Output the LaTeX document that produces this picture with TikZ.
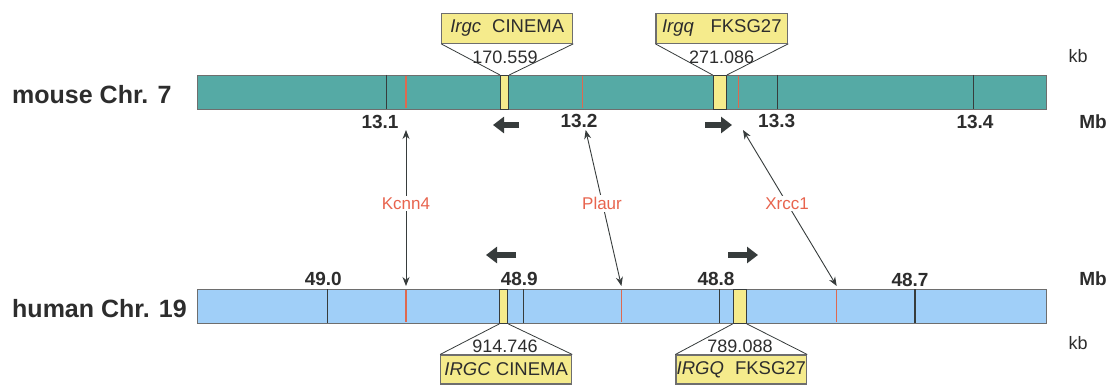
\documentclass[tikz,border=0pt]{standalone}
\usepackage{fontspec}
\setmainfont{Liberation Sans}
\usetikzlibrary{arrows.meta}
\definecolor{mousecol}{RGB}{85,170,165}
\definecolor{humancol}{RGB}{160,207,248}
\definecolor{genecol}{RGB}{245,235,140}
\definecolor{redline}{RGB}{222,105,80}
\definecolor{redtext}{RGB}{232,100,78}
\definecolor{darkline}{RGB}{55,60,60}
\definecolor{outline}{RGB}{110,110,110}
\definecolor{txt}{RGB}{45,45,45}
\begin{document}
\begin{tikzpicture}[x=1pt,y=-1pt,
  bar/.style={draw=outline,line width=1.2pt,minimum height=34pt,minimum width=849pt,inner sep=0pt,anchor=north west},
  band/.style={draw=darkline,line width=0.9pt,fill=genecol,inner sep=0pt,minimum height=34pt},
  genebox/.style={draw=outline,line width=1.1pt,fill=genecol,inner sep=0pt,minimum height=30pt,text=txt,font=\fontsize{18.5}{20}\selectfont},
  kbnum/.style={text=txt,font=\fontsize{18}{20}\selectfont,inner sep=0pt},
  mbnum/.style={text=txt,font=\fontsize{19}{22}\bfseries\selectfont,inner sep=0pt},
  chrlabel/.style={text=txt,font=\fontsize{25}{28}\bfseries\selectfont,inner sep=0pt,anchor=west},
  blackmark/.style={draw=darkline,line width=1.1pt},
  redmark/.style={draw=redline,line width=1.1pt},
  trap/.style={draw=darkline,line width=0.8pt},
  homolog/.style={draw=darkline,line width=0.9pt,{Stealth[length=9pt,width=7pt]}-{Stealth[length=9pt,width=7pt]}},
  glabel/.style={fill=white,text=redtext,font=\fontsize{17}{19}\selectfont,inner sep=2pt},
  dirarrow/.style={draw=darkline,line width=6.5pt,-{Triangle[length=11pt,width=16pt]}}
]
\useasboundingbox[fill=white] (0,0) rectangle (1112,385);

% chromosome labels
\node[chrlabel] (mlab) at (12,95) {mouse Chr. 7};
\node[chrlabel] (hlab) at (12,308.5) {human Chr. 19};

% bars
\node[bar,fill=mousecol] (mouse) at (197,75) {};
\node[bar,fill=humancol] (human) at (197,289) {};

% mouse marks
\foreach \x in {386.7,777.7,973.3} \draw[blackmark] (\x,75) -- (\x,109);
\foreach \x in {406,582.3,738.7} \draw[redmark] (\x,75.6) -- (\x,108.4);
\node[band,minimum width=8.3pt,anchor=north west] (mb1) at (500,75) {};
\node[band,minimum width=13.3pt,anchor=north west] (mb2) at (712.7,75) {};

% human marks
\foreach \x in {327.3,523.3,719.3,915} \draw[blackmark] (\x,289) -- (\x,323);
\foreach \x in {406,621.4,836.7} \draw[redmark] (\x,289.6) -- (\x,322.4);
\node[band,minimum width=8pt,anchor=north west] (hb1) at (499.3,289) {};
\node[band,minimum width=13.3pt,anchor=north west] (hb2) at (732.7,289) {};

% gene boxes mouse
\node[genebox,minimum width=131pt] (mg1) at (507.2,28.3) {\textit{Irgc}\hspace{0.6em}CINEMA};
\node[genebox,minimum width=131.7pt] (mg2) at (721.8,28.3) {\textit{Irgq}\hspace{0.9em}FKSG27};
\draw[trap] (mg1.south west) -- (mb1.north west) (mg1.south east) -- (mb1.north east);
\draw[trap] (mg2.south west) -- (mb2.north west) (mg2.south east) -- (mb2.north east);
\node[kbnum] (mk1) at (505,57) {170.559};
\node[kbnum] (mk2) at (721.7,57) {271.086};

% gene boxes human
\node[genebox,minimum width=131pt,minimum height=29pt] (hg1) at (506.2,369.5) {\textit{IRGC} CINEMA};
\node[genebox,minimum width=130.7pt,minimum height=29pt] (hg2) at (741.3,369.5) {\textit{IRGQ}\hspace{0.6em}FKSG27};
\draw[trap] (hb1.south west) -- (hg1.north west) (hb1.south east) -- (hg1.north east);
\draw[trap] (hb2.south west) -- (hg2.north west) (hb2.south east) -- (hg2.north east);
\node[kbnum] (hk1) at (505,346.5) {914.746};
\node[kbnum] (hk2) at (740,346.5) {789.088};

% unit labels
\node[kbnum] (kbm) at (1078,56) {kb};
\node[kbnum] (kbh) at (1078,342.7) {kb};
\node[mbnum] (mbm) at (1093,121.7) {Mb};
\node[mbnum] (mbh) at (1093,278.3) {Mb};

% Mb scale numbers
\node[mbnum] (m131) at (380,121.7) {13.1};
\node[mbnum] (m132) at (579,121.2) {13.2};
\node[mbnum] (m133) at (776.7,121.2) {13.3};
\node[mbnum] (m134) at (975,121.7) {13.4};
\node[mbnum] (h490) at (323.3,279.3) {49.0};
\node[mbnum] (h489) at (519.3,278.8) {48.9};
\node[mbnum] (h488) at (716,278.8) {48.8};
\node[mbnum] (h487) at (910,280) {48.7};

% direction arrows
\coordinate (da1s) at (519,125); \coordinate (da1e) at (493,125);
\coordinate (da2s) at (705,125); \coordinate (da2e) at (732,125);
\coordinate (da3s) at (516,255); \coordinate (da3e) at (486,255);
\coordinate (da4s) at (728,255); \coordinate (da4e) at (758,255);
\draw[dirarrow] (da1s) -- (da1e);
\draw[dirarrow] (da2s) -- (da2e);
\draw[dirarrow] (da3s) -- (da3e);
\draw[dirarrow] (da4s) -- (da4e);

% homology connectors
\coordinate (k1) at (406,130); \coordinate (k2) at (406,286);
\coordinate (p1) at (585.7,130); \coordinate (p2) at (621.4,286);
\coordinate (x1) at (743,130); \coordinate (x2) at (836.7,286);
\draw[homolog] (k1) -- (k2);
\draw[homolog] (p1) -- (p2);
\draw[homolog] (x1) -- (x2);
\node[glabel] (kcnn) at (406,203.5) {Kcnn4};
\node[glabel] (plaur) at (602,203.5) {Plaur};
\node[glabel] (xrcc) at (787,203.5) {Xrcc1};
\end{tikzpicture}
\end{document}
